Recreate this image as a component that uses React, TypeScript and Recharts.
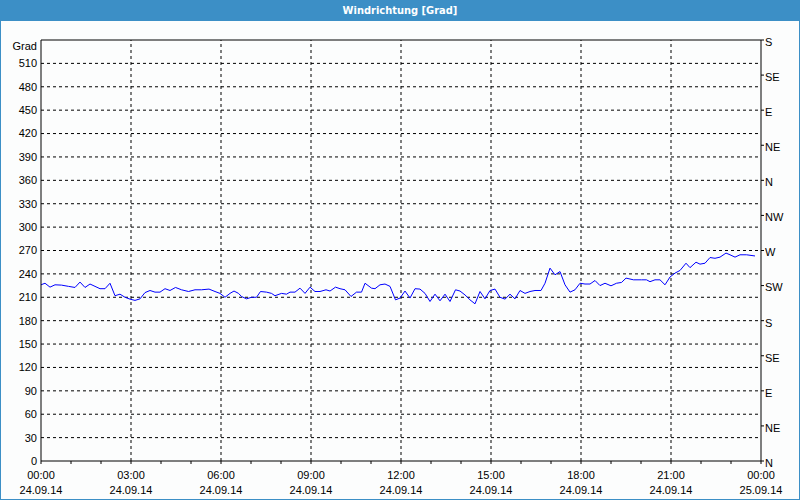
import React from 'react';
import { LineChart, Line, XAxis, YAxis, CartesianGrid, ReferenceLine } from 'recharts';

// minutes since 24.09.14 00:00
const minutes = [
  0, 8, 18, 28, 41, 55, 68, 78, 88, 98, 118, 128, 138, 148, 158, 168, 178, 188, 198, 208,
  218, 228, 238, 248, 258, 269, 281, 295, 308, 321, 336, 348, 358, 368, 378, 386, 395, 401, 411, 421,
  431, 439, 451, 461, 468, 481, 491, 498, 508, 518, 528, 538, 548, 558, 570, 578, 589, 598, 608, 620,
  631, 641, 648, 661, 668, 678, 688, 698, 709, 718, 728, 738, 748, 758, 768, 778, 788, 798, 808, 818,
  829, 838, 848, 858, 868, 878, 888, 898, 908, 918, 928, 938, 948, 958, 968, 978, 988, 1000, 1008, 1018,
  1028, 1038, 1048, 1058, 1068, 1078, 1088, 1098, 1108, 1118, 1128, 1140, 1151, 1161, 1170, 1185, 1201, 1211, 1218, 1228,
  1238, 1248, 1258, 1268, 1278, 1290, 1298, 1310, 1318, 1328, 1338, 1348, 1358, 1370, 1378, 1388, 1398, 1411, 1428,
];

const degrees = [
  226, 228, 223, 226, 225.6, 224, 222.6, 229.5, 222.6, 227, 221, 221, 228, 212, 214, 210, 207.6, 206, 208, 216,
  218.7, 216.6, 216.6, 221, 218.7, 222.6, 219.6, 217.4, 219.6, 219.6, 220.5, 217.4, 215, 210, 215, 218, 215, 211, 208, 210,
  210, 217.4, 216.6, 215, 212, 215, 214, 216.6, 216.6, 221.7, 215, 223, 217.4, 217.4, 219.6, 218, 223, 221, 219.6, 211,
  216.6, 216.6, 228, 221.7, 221, 226, 227, 224, 206.7, 209, 218, 209, 221, 220.5, 215, 204.6, 214, 205.5, 214, 204.6,
  219.6, 218, 213, 206.7, 201.6, 217.4, 208, 218.7, 220.5, 210, 207.6, 214, 208, 218.7, 215, 217.4, 218.7, 218.7, 228, 247.4,
  238.8, 243, 226, 216.6, 219.6, 228, 227, 227, 231.5, 225, 228, 224.7, 228, 229, 234.6, 232.4, 232.4, 232.4, 230, 232.4,
  232.4, 226, 236, 241, 244.4, 253.7, 248, 255, 252.5, 253.7, 261, 260, 261.5, 266.7, 264.5, 261.5, 264.5, 264.5, 263,
];

const hourTicks = [0, 60, 120, 180, 240, 300, 360, 420, 480, 540, 600, 660, 720, 780, 840, 900, 960, 1020, 1080, 1140, 1200, 1260, 1320, 1380, 1440];
const majorTicks = [0, 180, 360, 540, 720, 900, 1080, 1260, 1440];
const timeLabels = ['00:00', '03:00', '06:00', '09:00', '12:00', '15:00', '18:00', '21:00', '00:00'];
const dateLabels = ['24.09.14', '24.09.14', '24.09.14', '24.09.14', '24.09.14', '24.09.14', '24.09.14', '24.09.14', '25.09.14'];

const gradTicks = [0, 30, 60, 90, 120, 150, 180, 210, 240, 270, 300, 330, 360, 390, 420, 450, 480, 510, 540];
const compassTicks = [0, 45, 90, 135, 180, 225, 270, 315, 360, 405, 450, 495, 540];
const compassLabels = ['N', 'NE', 'E', 'SE', 'S', 'SW', 'W', 'NW', 'N', 'NE', 'E', 'SE', 'S'];

const data = minutes.map((m, i) => ({ t: m, deg: degrees[i] }));

const FONT = '"Liberation Sans", Arial, sans-serif';

const TimeTick = (props: any) => {
  const { x, y, payload } = props;
  const idx = majorTicks.indexOf(payload.value);
  return (
    <g>
      <line x1={x} y1={y} x2={x} y2={y + 3} stroke="#000" />
      {idx >= 0 && (
        <>
          <text x={x} y={y + 18} textAnchor="middle" fontSize={11} fill="#000">{timeLabels[idx]}</text>
          <text x={x} y={y + 33} textAnchor="middle" fontSize={11} fill="#000">{dateLabels[idx]}</text>
        </>
      )}
    </g>
  );
};

const GradTick = (props: any) => {
  const { x, y, payload } = props;
  const top = payload.value === 540;
  return (
    <text x={x} y={y + (top ? 6 : 0)} dy="0.355em" textAnchor="end" fontSize={11} fill="#000">
      {top ? 'Grad' : payload.value}
    </text>
  );
};

const CompassTick = (props: any) => {
  const { x, y, payload } = props;
  return (
    <g>
      <line x1={x - 4} y1={y} x2={x - 1} y2={y} stroke="#000" />
      <text x={x} y={y + 2} dy="0.355em" textAnchor="start" fontSize={11} fill="#000">
        {compassLabels[compassTicks.indexOf(payload.value)]}
      </text>
    </g>
  );
};

export default function App() {
  return (
    <div style={{ position: 'absolute', left: 0, top: 0, width: 800, height: 500, boxSizing: 'border-box', border: '1px solid #3c8fc6', background: '#fcfdfd', fontFamily: FONT }}>
      <div style={{ position: 'absolute', left: 0, top: 0, width: 798, height: 20, background: '#3c8fc6', color: '#fff', fontWeight: 'bold', fontSize: 11, lineHeight: '20px', textAlign: 'center', fontFamily: '"Liberation Sans Narrow", "DejaVu Sans Condensed", sans-serif' }}>
        Windrichtung [Grad]
      </div>
      <div style={{ position: 'absolute', left: -1, top: -1 }}>
        <LineChart width={800} height={500} data={data} margin={{ top: 39, right: 0, bottom: 0, left: 0 }} style={{ fontFamily: FONT }}>
          <CartesianGrid vertical={false} yAxisId="left" stroke="#000" strokeDasharray="3 3" horizontalValues={gradTicks.slice(1, -1)} />
          <XAxis
            dataKey="t"
            type="number"
            domain={[0, 1440]}
            ticks={hourTicks}
            interval={0}
            height={39}
            tickLine={false}
            tickSize={0}
            tickMargin={0}
            axisLine={{ stroke: '#000' }}
            tick={TimeTick}
          />
          <XAxis
            xAxisId="top"
            orientation="top"
            dataKey="t"
            type="number"
            domain={[0, 1440]}
            ticks={majorTicks}
            height={1}
            tick={false}
            tickLine={false}
            axisLine={{ stroke: '#000', strokeWidth: 1 }}
          />
          <YAxis
            yAxisId="left"
            domain={[0, 540]}
            ticks={gradTicks}
            interval={0}
            width={41}
            tickLine={false}
            tickSize={4}
            tickMargin={0}
            axisLine={{ stroke: '#000' }}
            tick={GradTick}
          />
          <YAxis
            yAxisId="right"
            orientation="right"
            domain={[0, 540]}
            allowDataOverflow
            ticks={compassTicks}
            interval={0}
            width={39}
            tickSize={3}
            tickMargin={1}
            tickLine={false}
            axisLine={{ stroke: '#000' }}
            tick={CompassTick}
          />
          {majorTicks.slice(1, -1).map((m) => (
            <ReferenceLine key={m} x={m} yAxisId="left" stroke="#000" strokeDasharray="3 3" />
          ))}
          <Line xAxisId="top" yAxisId="right" type="linear" dataKey="deg" stroke="none" dot={false} activeDot={false} legendType="none" isAnimationActive={false} />
          <Line yAxisId="left" type="linear" dataKey="deg" stroke="#0000ff" strokeWidth={1} dot={false} isAnimationActive={false} />
        </LineChart>
      </div>
    </div>
  );
}
